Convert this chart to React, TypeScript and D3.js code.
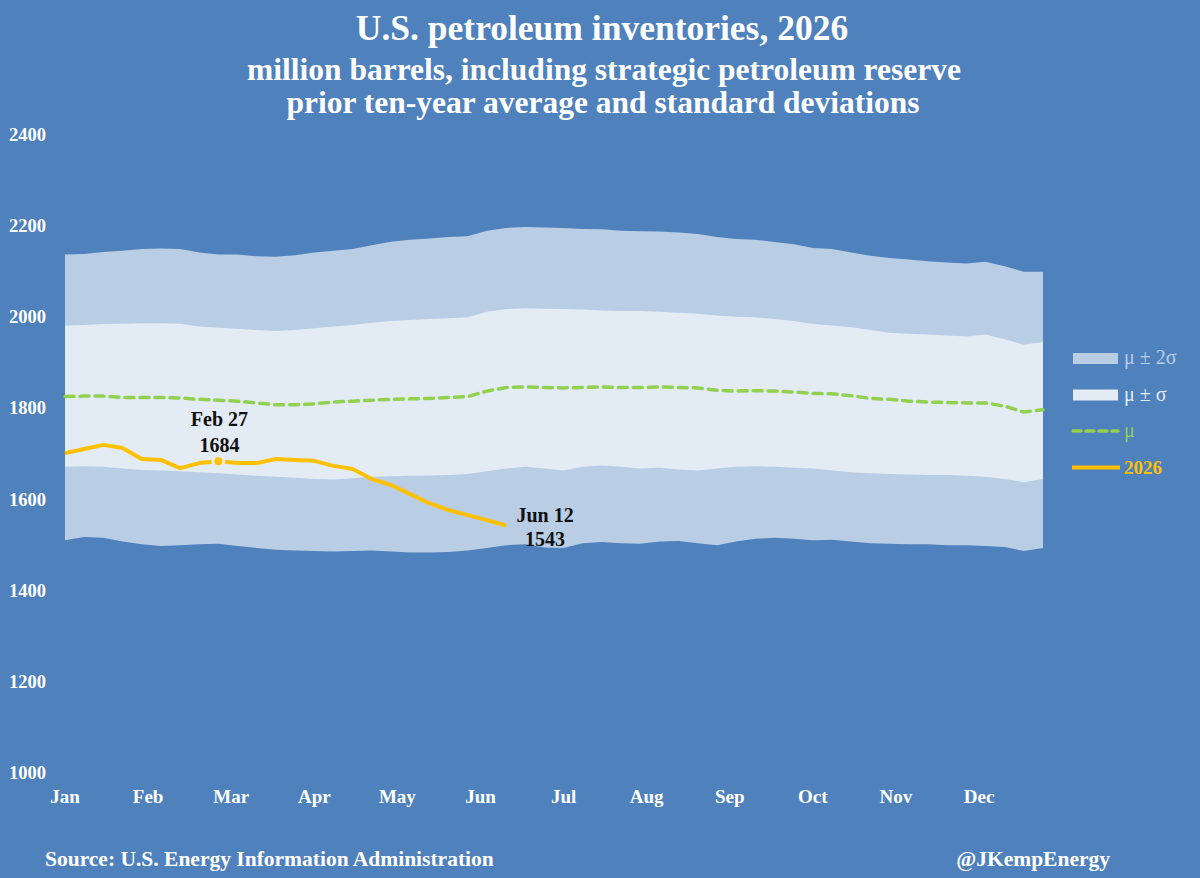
import { useEffect } from 'react';
import * as d3 from 'd3';

// weekly observations (Fridays from Jan 2), million barrels
const upper2 = [2138, 2139, 2143, 2146, 2150, 2151, 2150, 2142, 2138, 2138, 2134, 2133, 2136, 2142, 2146, 2150, 2158, 2166, 2170, 2173, 2176, 2178, 2190, 2196, 2198, 2197, 2196, 2194, 2193, 2190, 2189, 2188, 2186, 2183, 2176, 2172, 2170, 2165, 2160, 2152, 2150, 2142, 2135, 2130, 2127, 2123, 2120, 2118, 2122, 2112, 2100, 2100];
const upper1 = [1982, 1983, 1985, 1986, 1987, 1987, 1986, 1980, 1977, 1975, 1972, 1970, 1972, 1976, 1980, 1983, 1988, 1992, 1994, 1996, 1998, 2000, 2012, 2018, 2020, 2019, 2018, 2017, 2015, 2014, 2014, 2012, 2010, 2008, 2004, 2001, 2000, 1996, 1992, 1985, 1982, 1978, 1972, 1966, 1964, 1962, 1960, 1958, 1962, 1952, 1940, 1946];
const mean = [1826, 1827, 1827, 1824, 1824, 1824, 1823, 1820, 1818, 1816, 1812, 1808, 1808, 1810, 1814, 1816, 1818, 1820, 1821, 1822, 1824, 1826, 1838, 1846, 1847, 1846, 1845, 1846, 1847, 1846, 1846, 1847, 1846, 1845, 1840, 1838, 1839, 1838, 1836, 1833, 1832, 1828, 1822, 1820, 1816, 1814, 1813, 1812, 1812, 1805, 1792, 1797];
const lower1 = [1672, 1673, 1672, 1668, 1665, 1664, 1662, 1660, 1658, 1655, 1652, 1650, 1648, 1645, 1644, 1647, 1650, 1651, 1652, 1653, 1654, 1656, 1662, 1668, 1672, 1668, 1664, 1672, 1675, 1672, 1668, 1670, 1666, 1664, 1668, 1672, 1673, 1672, 1670, 1668, 1664, 1660, 1658, 1656, 1655, 1654, 1654, 1652, 1650, 1645, 1638, 1645];
const lower2 = [1511, 1518, 1516, 1508, 1502, 1498, 1500, 1502, 1503, 1498, 1494, 1490, 1488, 1487, 1486, 1487, 1488, 1486, 1484, 1484, 1485, 1488, 1494, 1500, 1502, 1495, 1494, 1504, 1507, 1504, 1503, 1508, 1509, 1504, 1500, 1508, 1514, 1516, 1514, 1511, 1512, 1508, 1504, 1503, 1502, 1502, 1500, 1500, 1498, 1496, 1487, 1494];
const y2026 = [1702, 1711, 1720, 1713, 1689, 1687, 1669, 1680, 1684, 1680, 1680, 1689, 1687, 1685, 1674, 1667, 1645, 1632, 1612, 1592, 1577, 1566, 1555, 1543];

const months = ['Jan', 'Feb', 'Mar', 'Apr', 'May', 'Jun', 'Jul', 'Aug', 'Sep', 'Oct', 'Nov', 'Dec'];
const yTicks = [1000, 1200, 1400, 1600, 1800, 2000, 2200, 2400];
const callouts = [
  { week: 8, date: 'Feb 27', value: 1684 },
  { week: 23, date: 'Jun 12', value: 1543 },
];

const W = 1200;
const H = 878;
const BG = '#4f81bd';
const OUTER = '#b9cde5';
const INNER = '#e3ebf5';
const GREEN = '#92d050';
const GOLD = '#ffc000';
const FONT = '"Liberation Serif", "DejaVu Serif", serif';

export default function App() {
  useEffect(() => {
    document.body.style.margin = '0';
  }, []);

  const x = d3.scaleLinear().domain([0, 51]).range([65, 1043]);
  const y = d3.scaleLinear().domain([1000, 2400]).range([773, 135]);

  const weeks = d3.range(upper2.length);
  const band = (lo: number[], hi: number[]) =>
    d3.area<number>()
      .x(i => x(i))
      .y0(i => y(lo[i]))
      .y1(i => y(hi[i]))(weeks) || '';
  const line = (vals: number[]) =>
    d3.line<number>()
      .x((_, i) => x(i))
      .y(v => y(v))(vals) || '';

  const weeksPerMonth = 52 / 12;

  const legend = [
    { kind: 'rect', fill: OUTER, label: 'μ ± 2σ', color: OUTER },
    { kind: 'rect', fill: INNER, label: 'μ ± σ', color: INNER },
    { kind: 'dash', fill: GREEN, label: 'μ', color: GREEN },
    { kind: 'line', fill: GOLD, label: '2026', color: GOLD },
  ];

  return (
    <svg width={W} height={H} style={{ display: 'block', fontFamily: FONT }}>
      <rect width={W} height={H} fill={BG} />

      {/* titles */}
      <g fill="#fff" fontWeight="bold" textAnchor="middle">
        <text x={602} y={40} fontSize={35.5}>U.S. petroleum inventories, 2026</text>
        <text x={604} y={80} fontSize={31.5}>million barrels, including strategic petroleum reserve</text>
        <text x={603} y={113} fontSize={31.5}>prior ten-year average and standard deviations</text>
      </g>

      {/* bands */}
      <path d={band(lower2, upper2)} fill={OUTER} />
      <path d={band(lower1, upper1)} fill={INNER} />
      <path d={line(mean)} fill="none" stroke={GREEN} strokeWidth={3.5} strokeDasharray="9,6" strokeLinecap="round" />
      <path d={line(y2026)} fill="none" stroke={GOLD} strokeWidth={4} strokeLinejoin="round" />
      <circle cx={x(callouts[0].week)} cy={y(callouts[0].value)} r={5.5} fill={GOLD} stroke={INNER} strokeWidth={3} />

      {/* callouts */}
      <g fontSize={20} fontWeight="bold" fill="#111" textAnchor="middle">
        <text x={x(callouts[0].week) + 1} y={y(callouts[0].value) - 35}>{callouts[0].date}</text>
        <text x={x(callouts[0].week) + 1} y={y(callouts[0].value) - 9}>{callouts[0].value}</text>
        <text x={x(callouts[1].week) + 39} y={y(callouts[1].value) - 4}>{callouts[1].date}</text>
        <text x={x(callouts[1].week) + 39} y={y(callouts[1].value) + 20}>{callouts[1].value}</text>
      </g>

      {/* y axis */}
      <g fill="#fff" fontSize={18.5} fontWeight="bold" textAnchor="end">
        {yTicks.map(t => (
          <text key={t} x={46} y={y(t) + 6}>{t}</text>
        ))}
      </g>

      {/* x axis */}
      <g fill="#fff" fontSize={19} fontWeight="bold" textAnchor="middle">
        {months.map((m, i) => (
          <text key={m} x={x(i * weeksPerMonth)} y={803}>{m}</text>
        ))}
      </g>

      {/* legend */}
      <g fontSize={20}>
        {legend.map((d, i) => {
          const ly = 358 + i * 36.5;
          return (
            <g key={d.label}>
              {d.kind === 'rect' && <rect x={1073} y={ly - 5} width={45} height={11} fill={d.fill} />}
              {d.kind === 'dash' && (
                <line x1={1073} x2={1118} y1={ly} y2={ly} stroke={d.fill} strokeWidth={3.5} strokeDasharray="8,5" strokeLinecap="round" />
              )}
              {d.kind === 'line' && (
                <line x1={1072} x2={1120} y1={ly} y2={ly} stroke={d.fill} strokeWidth={4} />
              )}
              <text x={1124} y={ly + 6} fill={d.color} fontWeight={d.kind === 'line' ? 'bold' : 'normal'} fontSize={d.kind === 'line' ? 19 : 20}>
                {d.label}
              </text>
            </g>
          );
        })}
      </g>

      {/* footer */}
      <g fill="#fff" fontSize={21.5} fontWeight="bold">
        <text x={45} y={866}>Source: U.S. Energy Information Administration</text>
        <text x={1110} y={866} textAnchor="end">@JKempEnergy</text>
      </g>
    </svg>
  );
}
